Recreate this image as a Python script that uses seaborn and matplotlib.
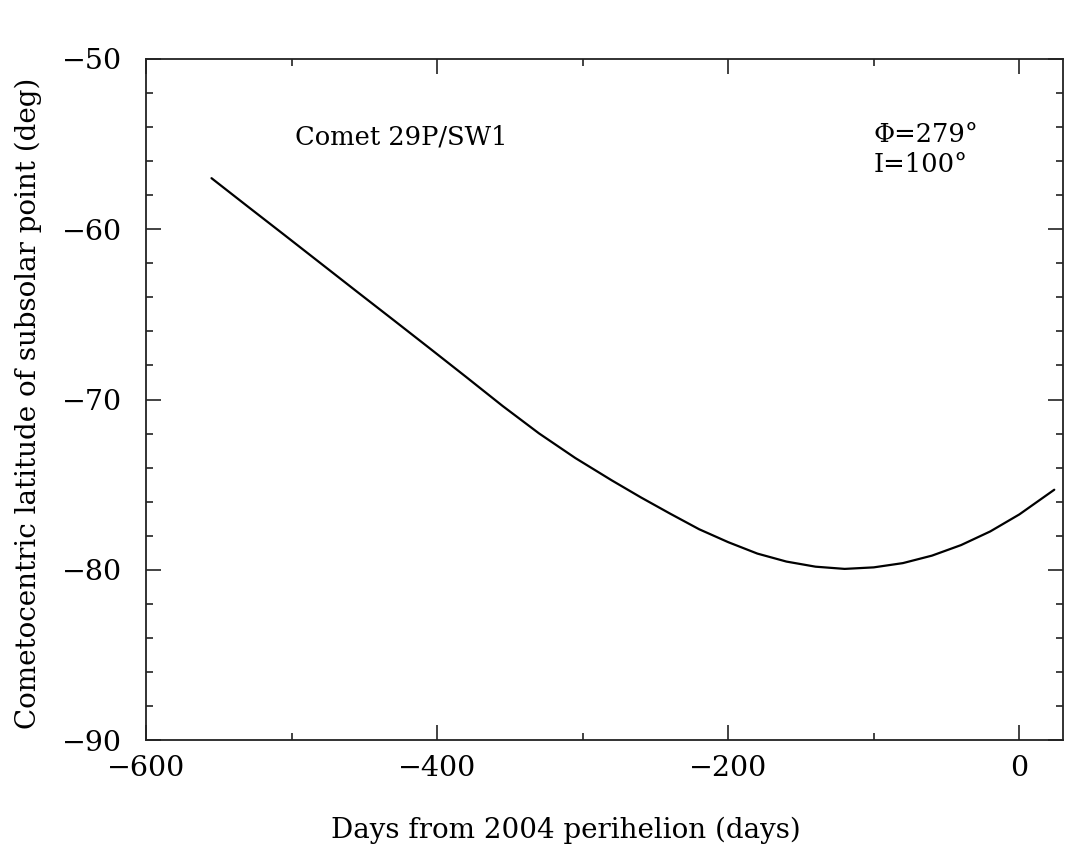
import numpy as np
import pandas as pd
import matplotlib
matplotlib.use("Agg")
import matplotlib.pyplot as plt
import seaborn as sns
from matplotlib.ticker import MultipleLocator

days = [-555, -530, -505, -480, -455, -430, -405, -380, -355, -330, -305,
        -280, -260, -240, -220, -200, -180, -160, -140, -120, -100, -80,
        -60, -40, -20, 0, 24]
latitude = [-57.0, -58.67, -60.33, -62.0, -63.67, -65.33, -67.0, -68.68,
            -70.38, -71.99, -73.44, -74.75, -75.75, -76.7, -77.62, -78.38,
            -79.05, -79.52, -79.82, -79.95, -79.86, -79.61, -79.17, -78.55,
            -77.75, -76.75, -75.3]

title_text = "Comet 29P/SW1"
param_lines = ["Φ=279°", "I=100°"]
xlabel = "Days from 2004 perihelion (days)"
ylabel = "Cometocentric latitude of subsolar point (deg)"

sns.set_theme(style="ticks")
plt.rcParams['font.family'] = ['DejaVu Serif']
plt.rcParams['text.color'] = 'black'
plt.rcParams['xtick.color'] = 'black'
plt.rcParams['ytick.color'] = 'black'

df = pd.DataFrame({"day": days, "lat": latitude})

fig = plt.figure(figsize=(10.68, 8.55), dpi=100)
ax = fig.add_axes([146/1068, 1-740/855, (1063-146)/1068, (740-59)/855])
sns.lineplot(data=df, x="day", y="lat", ax=ax, color="black", linewidth=1.6)

ax.set_xlim(-600, 30)
ax.set_ylim(-90, -50)
ax.xaxis.set_major_locator(MultipleLocator(200))
ax.xaxis.set_minor_locator(MultipleLocator(100))
ax.yaxis.set_major_locator(MultipleLocator(10))
ax.yaxis.set_minor_locator(MultipleLocator(2))
ax.tick_params(which="both", direction="in", top=True, right=True,
               color="#222222", width=1.2, labelcolor="black")
ax.tick_params(which="major", length=11, labelsize=20.5,
               labelfontfamily="DejaVu Serif")
ax.tick_params(which="minor", length=5)
ax.tick_params(axis="x", which="major", pad=11)
ax.tick_params(axis="y", which="major", pad=17)
for s in ax.spines.values():
    s.set_linewidth(1.3)
    s.set_color("#222222")
ax.set_xlabel("")
ax.set_ylabel("")

fig.text(566/1068, 1-830/855, xlabel, ha="center", va="center", fontsize=20, color="black")
fig.text(28/1068, 1-403/855, ylabel, ha="center", va="center", rotation=90,
         fontsize=20, color="black")

ax.text(-497.6, -54.57, title_text, ha="left", va="center", fontsize=18.5, color="black")
ax.text(-100, -54.46, param_lines[0], ha="left", va="center", fontsize=18.5, color="black")
ax.text(-100, -56.2, param_lines[1], ha="left", va="center", fontsize=18.5, color="black")

fig.savefig("out.png", dpi=100, facecolor="white")
